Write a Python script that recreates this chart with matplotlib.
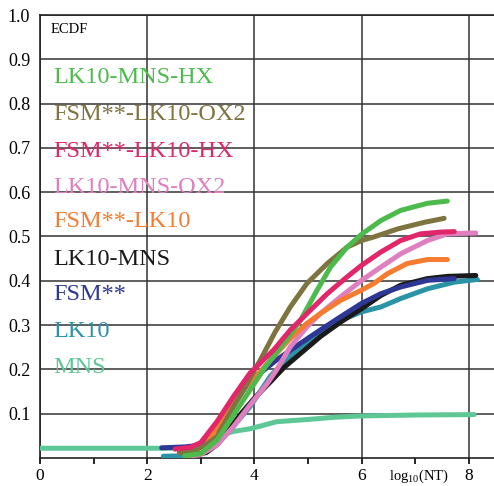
import matplotlib.pyplot as plt
from matplotlib.ticker import FixedLocator

# Series, in legend order (top to bottom)
NAMES = ["LK10-MNS-HX", "FSM**-LK10-OX2", "FSM**-LK10-HX", "LK10-MNS-OX2",
         "FSM**-LK10", "LK10-MNS", "FSM**", "LK10", "MNS"]
COLORS = ["#4cbb4c", "#7d7440", "#e2266a", "#df7fbf",
          "#f47b30", "#1a1a1a", "#2e3796", "#2a93a6", "#5dc896"]
LABEL_Y = [0.86, 0.776, 0.692, 0.61, 0.534, 0.448, 0.369, 0.285, 0.204]

# ECDF curves: x = log10(NT), y = ECDF
lk10_mns_hx_x = [2.7, 3.0, 3.3, 3.6, 3.9, 4.2, 4.64, 4.86, 5.17, 5.42, 5.73, 6.0, 6.36, 6.73, 7.23, 7.6]
lk10_mns_hx_y = [0.005, 0.01, 0.04, 0.095, 0.15, 0.205, 0.274, 0.311, 0.379, 0.431, 0.476, 0.505, 0.536, 0.559, 0.575, 0.58]

fsm_lk10_ox2_x = [2.6, 2.9, 3.1, 3.3, 3.61, 3.8, 3.93, 4.11, 4.39, 4.67, 4.98, 5.36, 5.73, 6.0, 6.23, 6.67, 7.17, 7.54]
fsm_lk10_ox2_y = [0.012, 0.018, 0.03, 0.048, 0.116, 0.154, 0.183, 0.221, 0.285, 0.341, 0.394, 0.439, 0.476, 0.491, 0.499, 0.517, 0.532, 0.541]

fsm_lk10_hx_x = [2.52, 2.8, 3.0, 3.3, 3.61, 3.92, 4.36, 4.67, 4.98, 5.36, 5.73, 6.0, 6.36, 6.73, 7.1, 7.48, 7.73]
fsm_lk10_hx_y = [0.02, 0.024, 0.035, 0.082, 0.139, 0.192, 0.244, 0.289, 0.326, 0.371, 0.409, 0.435, 0.465, 0.491, 0.506, 0.51, 0.511]

lk10_mns_ox2_x = [2.8, 3.0, 3.3, 3.61, 3.92, 4.24, 4.42, 4.67, 4.98, 5.23, 5.61, 6.0, 6.36, 6.73, 7.23, 7.6, 8.13]
lk10_mns_ox2_y = [0.004, 0.008, 0.029, 0.071, 0.12, 0.168, 0.2, 0.251, 0.296, 0.326, 0.364, 0.401, 0.431, 0.461, 0.491, 0.506, 0.508]

fsm_lk10_x = [2.6, 2.9, 3.1, 3.3, 3.61, 3.92, 4.11, 4.36, 4.67, 4.98, 5.23, 5.61, 6.0, 6.23, 6.48, 6.85, 7.23, 7.6]
fsm_lk10_y = [0.012, 0.02, 0.03, 0.07, 0.128, 0.172, 0.195, 0.229, 0.27, 0.304, 0.326, 0.356, 0.379, 0.394, 0.416, 0.439, 0.448, 0.448]

lk10_mns_x = [2.9, 3.1, 3.3, 3.5, 3.75, 4.0, 4.3, 4.55, 4.86, 5.23, 5.61, 6.0, 6.36, 6.73, 7.23, 7.6, 8.13]
lk10_mns_y = [0.008, 0.012, 0.03, 0.06, 0.1, 0.135, 0.172, 0.204, 0.236, 0.274, 0.307, 0.337, 0.367, 0.39, 0.405, 0.41, 0.412]

fsm_x = [2.27, 2.7, 3.0, 3.3, 3.61, 3.92, 4.42, 4.86, 5.23, 5.61, 6.0, 6.36, 6.73, 7.23, 7.73]
fsm_y = [0.023, 0.025, 0.029, 0.067, 0.124, 0.173, 0.222, 0.259, 0.289, 0.319, 0.349, 0.371, 0.386, 0.401, 0.405]

lk10_x = [2.3, 2.8, 3.0, 3.3, 3.61, 3.92, 4.3, 4.55, 4.86, 5.23, 5.61, 6.0, 6.36, 6.73, 7.23, 7.73, 8.16]
lk10_y = [0.004, 0.005, 0.01, 0.03, 0.072, 0.116, 0.185, 0.217, 0.251, 0.285, 0.311, 0.33, 0.341, 0.36, 0.382, 0.397, 0.403]

mns_x = [0.0, 2.8, 3.0, 3.2, 3.4, 3.61, 3.92, 4.42, 5.0, 5.5, 6.0, 7.0, 8.1]
mns_y = [0.022, 0.022, 0.025, 0.04, 0.052, 0.06, 0.066, 0.082, 0.087, 0.092, 0.095, 0.097, 0.098]

CURVES = [
    (lk10_mns_hx_x, lk10_mns_hx_y),
    (fsm_lk10_ox2_x, fsm_lk10_ox2_y),
    (fsm_lk10_hx_x, fsm_lk10_hx_y),
    (lk10_mns_ox2_x, lk10_mns_ox2_y),
    (fsm_lk10_x, fsm_lk10_y),
    (lk10_mns_x, lk10_mns_y),
    (fsm_x, fsm_y),
    (lk10_x, lk10_y),
    (mns_x, mns_y),
]

X_TICKS = [0, 2, 4, 6, 8]
X_MINOR = [1, 3, 5, 7]
Y_TICKS = [0.1, 0.2, 0.3, 0.4, 0.5, 0.6, 0.7, 0.8, 0.9, 1.0]

plt.rcParams.update({
    "font.family": "serif",
    "font.serif": ["Liberation Serif", "DejaVu Serif"],
    "mathtext.fontset": "stix",
})

fig = plt.figure(figsize=(4.94, 4.86), dpi=100)
ax = fig.add_axes([40 / 494, 1 - 458 / 486, 454 / 494, 443 / 486])

# draw order: back to front roughly as in the picture
order = [8, 7, 5, 6, 3, 4, 1, 0, 2]
for i in order:
    xs, ys = CURVES[i]
    ax.plot(xs, ys, color=COLORS[i], lw=3.6, solid_capstyle="round", zorder=3)

for name, color, y in zip(NAMES, COLORS, LABEL_Y):
    ax.text(0.24, y, name, color=color, fontsize=17.5, ha="left", va="center", zorder=4)

ax.text(0.2, 0.968, "ECDF", fontsize=10.5, ha="left", va="center")

ax.set_xlim(0, 454 / 53.6)
ax.set_ylim(0, 1.0)
ax.set_xticks(X_TICKS)
ax.xaxis.set_minor_locator(FixedLocator(X_MINOR))
ax.set_yticks(Y_TICKS)
ax.set_yticklabels([f"{v:.1f}" for v in Y_TICKS])
ax.tick_params(axis="x", which="major", direction="out", length=4, width=1.2, labelsize=12.5, pad=3)
ax.tick_params(axis="x", which="minor", direction="out", length=4, width=1.2)
ax.tick_params(axis="y", length=0, labelsize=13, pad=7)
ax.grid(True, which="major", color="#333333", lw=1.1)
for side in ["left", "bottom", "top"]:
    ax.spines[side].set_linewidth(1.2)
    ax.spines[side].set_color("#222222")
ax.spines["right"].set_visible(False)

ax.text(7.07, -0.042, r"$\mathregular{log_{10}(NT)}$", fontsize=10.5, ha="center", va="center")

fig.savefig("out.png", dpi=100)
